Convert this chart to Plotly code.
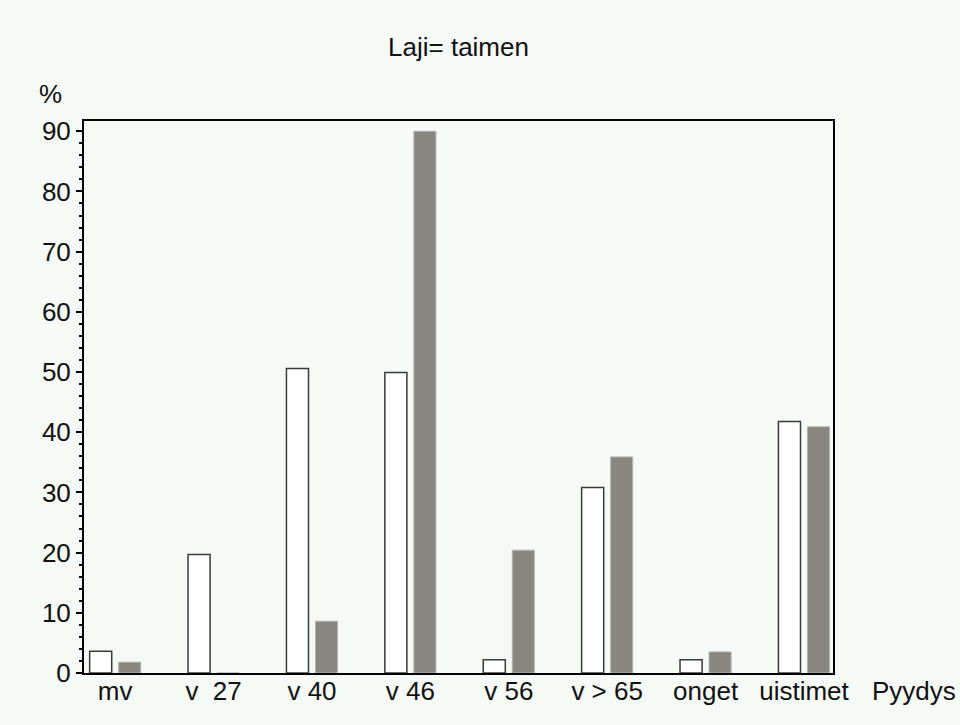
import plotly.graph_objects as go

categories = ["mv", "v\u00a0\u00a027", "v\u00a040", "v\u00a046", "v\u00a056", "v\u00a0>\u00a065", "onget", "uistimet"]
series_a = [3.6, 19.7, 50.6, 49.9, 2.2, 30.8, 2.2, 41.8]
series_b = [1.8, 0.0, 8.6, 90.0, 20.4, 35.9, 3.5, 40.9]
y_ticks = [0, 10, 20, 30, 40, 50, 60, 70, 80, 90]

BG = "#f6faf7"
FONT = "Liberation Sans, Arial, sans-serif"
FS = 26

fig = go.Figure()
fig.add_trace(go.Bar(x=categories, y=series_a, marker=dict(color="#ffffff", line=dict(color="#3a3a3a", width=1.5)), showlegend=False))
fig.add_trace(go.Bar(x=categories, y=series_b, marker=dict(color="#87877f", line=dict(color="#b5b5ae", width=1)), showlegend=False))

fig.update_layout(
    width=960, height=725,
    paper_bgcolor=BG, plot_bgcolor=BG,
    margin=dict(l=84, r=127, t=121, b=52),
    barmode="group", bargap=0.41, bargroupgap=0.24,
    font=dict(family=FONT, size=FS, color="#111111"),
    title=dict(text="Laji= taimen", x=0.5, xanchor="center", y=0.935, yanchor="middle",
               xref="paper", font=dict(family=FONT, size=FS, color="#111111")),
    xaxis=dict(range=[-0.317, 7.295], showline=True, linecolor="black", linewidth=2, mirror=True,
               ticks="", showgrid=False, zeroline=False, tickfont=dict(size=FS), ticklabelstandoff=-6),
    yaxis=dict(range=[0, 91.7], tickvals=y_ticks, showline=True, linecolor="black", linewidth=2, mirror=True,
               ticks="outside", ticklen=6, tickwidth=1.5, tickcolor="black", showgrid=False, zeroline=False,
               minor=dict(dtick=2, ticks="outside", ticklen=3, tickwidth=1.5, tickcolor="black", showgrid=False),
               tickfont=dict(size=FS)),
)
fig.add_annotation(text="%", xref="paper", yref="paper", x=-0.045, y=1.049, xanchor="center", yanchor="middle",
                   showarrow=False, font=dict(family=FONT, size=FS, color="#111111"))
fig.add_annotation(text="Pyydys", xref="paper", yref="paper", x=1.05, y=-0.033, xanchor="left", yanchor="middle",
                   showarrow=False, font=dict(family=FONT, size=FS, color="#111111"))

fig.write_html("out.html", config={"displayModeBar": False},
               post_script="document.body.style.margin='0';document.body.style.background='%s';" % BG)
